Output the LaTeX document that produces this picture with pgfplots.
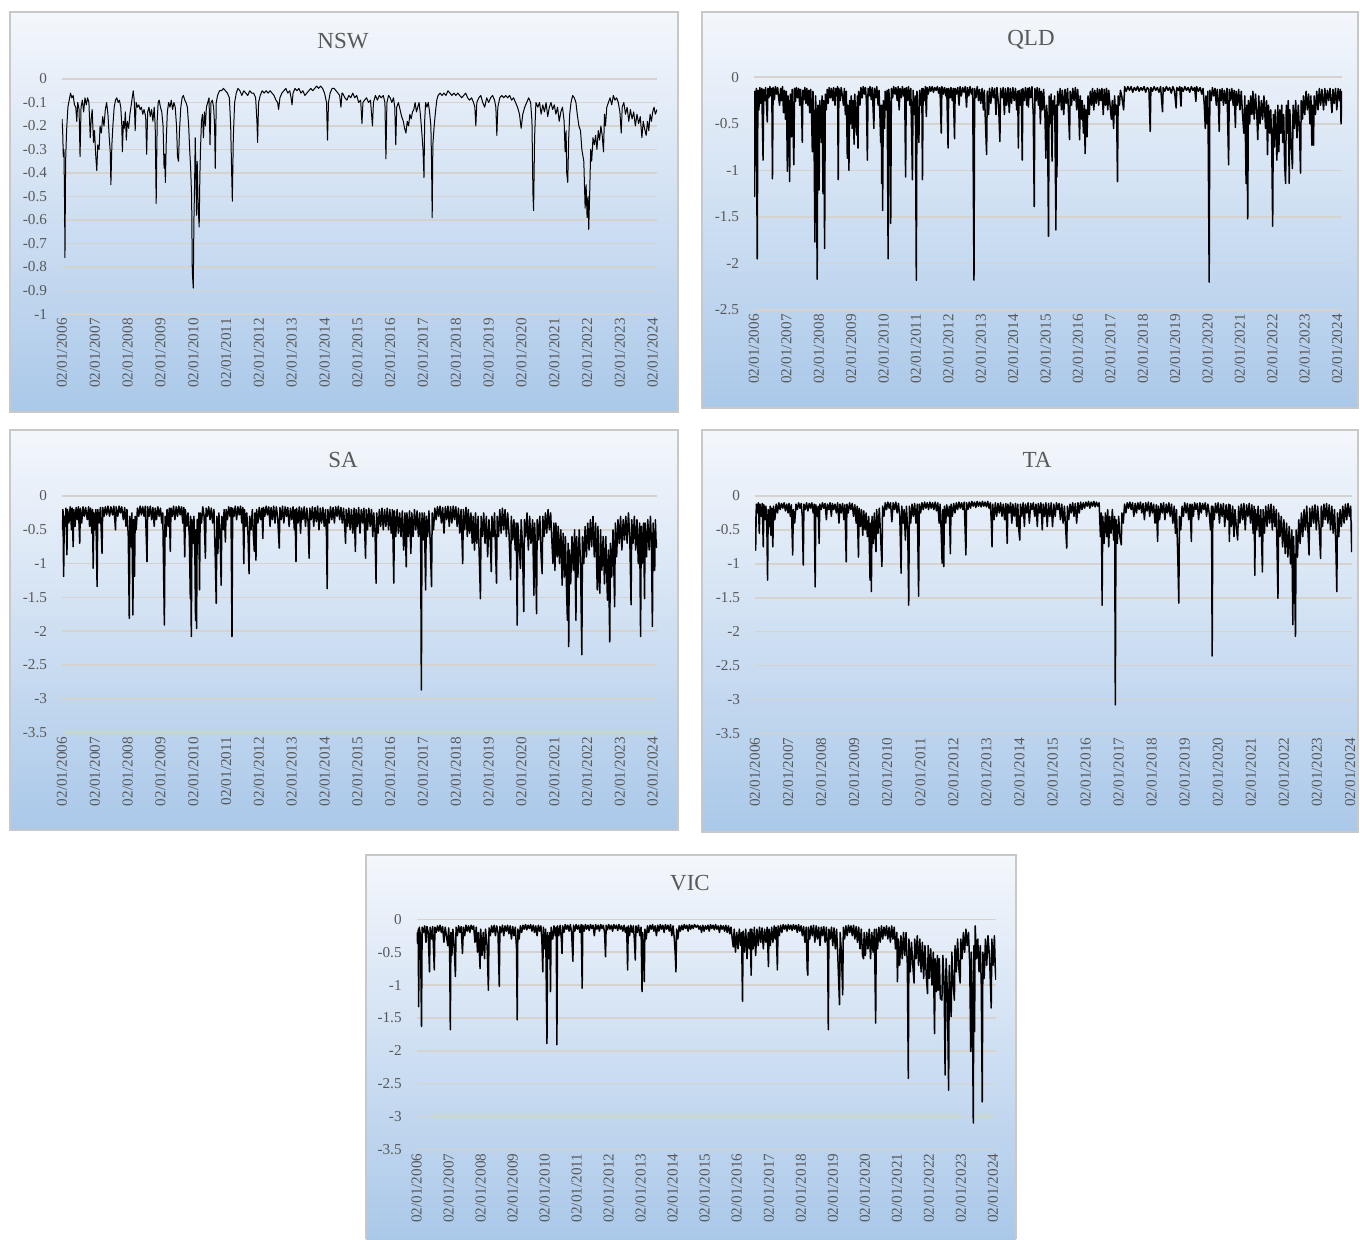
\documentclass[border=0pt]{standalone}
\usepackage{pgfplots}
\pgfplotsset{compat=1.18}
\usepackage{fontspec}
\setmainfont{Liberation Serif}
\definecolor{txt}{RGB}{89,89,89}
\definecolor{gridc}{RGB}{214,210,206}
\definecolor{panTop}{RGB}{244,247,252}
\definecolor{panBot}{RGB}{170,200,233}
\definecolor{panBorder}{RGB}{200,200,200}
\pgfplotsset{panel/.style={
  scale only axis, anchor=south west,
  axis line style={draw=none},
  major tick length=0pt,
  ymajorgrids, grid style={gridc, line width=0.8pt},
  no markers,
  cycle list={{black, line width=0.5pt, line join=round}},
  xtick={2006,2007,2008,2009,2010,2011,2012,2013,2014,2015,2016,2017,2018,2019,2020,2021,2022,2023,2024},
  xticklabels={02/01/2006,02/01/2007,02/01/2008,02/01/2009,02/01/2010,02/01/2011,02/01/2012,02/01/2013,02/01/2014,02/01/2015,02/01/2016,02/01/2017,02/01/2018,02/01/2019,02/01/2020,02/01/2021,02/01/2022,02/01/2023,02/01/2024},
  x tick label style={rotate=90, anchor=east, font=\fontsize{7.6}{9}\selectfont, text=txt, inner sep=2pt},
  y tick label style={font=\fontsize{7.6}{9}\selectfont, text=txt, xshift=-4pt},
  /pgf/number format/assume math mode=true,
  yticklabel style={/pgf/number format/fixed},
}}
\tikzset{ser/.style={black, mark=none, line width=0.5pt, line join=round},
         serd/.style={black, mark=none, line width=0.75pt, line join=round}}
\begin{document}
\begin{tikzpicture}
\path[use as bounding box] (0pt,0pt) rectangle (680pt,619.5pt);
% panels
\shade[top color=panTop, bottom color=panBot] (5pt,413.5pt) rectangle (339pt,613.5pt);
\draw[panBorder, line width=0.6pt] (5pt,413.5pt) rectangle (339pt,613.5pt);
\shade[top color=panTop, bottom color=panBot] (351pt,415.5pt) rectangle (679pt,613.5pt);
\draw[panBorder, line width=0.6pt] (351pt,415.5pt) rectangle (679pt,613.5pt);
\shade[top color=panTop, bottom color=panBot] (5pt,204.5pt) rectangle (339pt,404.5pt);
\draw[panBorder, line width=0.6pt] (5pt,204.5pt) rectangle (339pt,404.5pt);
\shade[top color=panTop, bottom color=panBot] (351pt,203.5pt) rectangle (679pt,404.5pt);
\draw[panBorder, line width=0.6pt] (351pt,203.5pt) rectangle (679pt,404.5pt);
\shade[top color=panTop, bottom color=panBot] (183pt,0pt) rectangle (508pt,192pt);
\draw[panBorder, line width=0.6pt] (183pt,0pt) -- (183pt,192pt) -- (508pt,192pt) -- (508pt,0pt);
% titles
\node[font=\fontsize{11.5}{13}\selectfont, text=txt] at (171.5pt,599pt) {NSW};
\node[font=\fontsize{11.5}{13}\selectfont, text=txt] at (515.5pt,599.5pt) {QLD};
\node[font=\fontsize{11.5}{13}\selectfont, text=txt] at (171.5pt,389.5pt) {SA};
\node[font=\fontsize{11.5}{13}\selectfont, text=txt] at (518.5pt,389.5pt) {TA};
\node[font=\fontsize{11.5}{13}\selectfont, text=txt] at (345pt,178pt) {VIC};

% NSW
\begin{axis}[panel, at={(31pt,462.5pt)}, width=297.5pt, height=117.5pt,
  xmin=2006, xmax=2024.13, ymin=-1, ymax=0,
  ytick={-1,-0.9,-0.8,-0.7,-0.6,-0.5,-0.4,-0.3,-0.2,-0.1,0}]
\addplot[ser] coordinates {
(2006.00,-0.17) (2006.02,-0.22) (2006.04,-0.33) (2006.06,-0.30) (2006.08,-0.55) (2006.09,-0.76) (2006.11,-0.35) (2006.14,-0.22)
(2006.18,-0.12) (2006.22,-0.09) (2006.26,-0.06) (2006.30,-0.08) (2006.34,-0.07) (2006.38,-0.11) (2006.42,-0.12) (2006.45,-0.18)
(2006.48,-0.10) (2006.52,-0.13) (2006.55,-0.33) (2006.58,-0.12) (2006.62,-0.09) (2006.66,-0.14) (2006.70,-0.08) (2006.74,-0.11)
(2006.78,-0.08) (2006.82,-0.10) (2006.86,-0.25) (2006.89,-0.17) (2006.92,-0.13) (2006.96,-0.27) (2006.99,-0.22) (2007.03,-0.33)
(2007.06,-0.39) (2007.09,-0.28) (2007.13,-0.30) (2007.16,-0.20) (2007.20,-0.23) (2007.24,-0.16) (2007.28,-0.20) (2007.32,-0.13)
(2007.36,-0.10) (2007.40,-0.15) (2007.44,-0.25) (2007.47,-0.31) (2007.49,-0.45) (2007.52,-0.28) (2007.55,-0.20) (2007.59,-0.12)
(2007.63,-0.09) (2007.67,-0.08) (2007.71,-0.10) (2007.75,-0.09) (2007.79,-0.12) (2007.82,-0.19) (2007.84,-0.31) (2007.87,-0.18)
(2007.90,-0.21) (2007.93,-0.14) (2007.96,-0.26) (2007.99,-0.18) (2008.03,-0.21) (2008.07,-0.15) (2008.11,-0.11) (2008.14,-0.08)
(2008.17,-0.05) (2008.20,-0.09) (2008.23,-0.22) (2008.26,-0.10) (2008.30,-0.12) (2008.34,-0.11) (2008.38,-0.13) (2008.42,-0.12)
(2008.46,-0.15) (2008.50,-0.13) (2008.55,-0.16) (2008.58,-0.32) (2008.61,-0.14) (2008.65,-0.12) (2008.69,-0.16) (2008.73,-0.13)
(2008.77,-0.18) (2008.81,-0.12) (2008.84,-0.20) (2008.87,-0.53) (2008.90,-0.18) (2008.93,-0.10) (2008.96,-0.09) (2009.00,-0.12)
(2009.04,-0.14) (2009.08,-0.20) (2009.11,-0.38) (2009.13,-0.32) (2009.15,-0.44) (2009.18,-0.25) (2009.21,-0.14) (2009.25,-0.10)
(2009.29,-0.12) (2009.33,-0.09) (2009.37,-0.13) (2009.41,-0.10) (2009.45,-0.12) (2009.49,-0.20) (2009.52,-0.33) (2009.55,-0.35)
(2009.58,-0.22) (2009.62,-0.12) (2009.66,-0.08) (2009.70,-0.07) (2009.74,-0.09) (2009.78,-0.10) (2009.82,-0.12) (2009.86,-0.20)
(2009.89,-0.30) (2009.92,-0.38) (2009.95,-0.50) (2009.97,-0.82) (2010.00,-0.89) (2010.02,-0.60) (2010.04,-0.45) (2010.06,-0.25)
(2010.08,-0.40) (2010.10,-0.58) (2010.12,-0.35) (2010.15,-0.55) (2010.18,-0.63) (2010.20,-0.42) (2010.22,-0.30) (2010.25,-0.18)
(2010.28,-0.15) (2010.31,-0.25) (2010.34,-0.14) (2010.37,-0.20) (2010.40,-0.12) (2010.44,-0.10) (2010.48,-0.08) (2010.51,-0.28)
(2010.54,-0.10) (2010.58,-0.09) (2010.62,-0.12) (2010.65,-0.20) (2010.67,-0.38) (2010.70,-0.10) (2010.74,-0.07) (2010.80,-0.05)
(2010.86,-0.05) (2010.92,-0.04) (2010.98,-0.05) (2011.04,-0.06) (2011.10,-0.08) (2011.14,-0.20) (2011.17,-0.40) (2011.19,-0.52)
(2011.22,-0.25) (2011.26,-0.10) (2011.31,-0.06) (2011.36,-0.04) (2011.42,-0.05) (2011.48,-0.07) (2011.54,-0.05) (2011.60,-0.06)
(2011.66,-0.07) (2011.72,-0.05) (2011.78,-0.06) (2011.84,-0.06) (2011.90,-0.08) (2011.94,-0.18) (2011.96,-0.27) (2011.99,-0.10)
(2012.04,-0.07) (2012.10,-0.05) (2012.16,-0.06) (2012.22,-0.05) (2012.28,-0.06) (2012.34,-0.05) (2012.40,-0.06) (2012.46,-0.07)
(2012.52,-0.09) (2012.57,-0.10) (2012.60,-0.13) (2012.64,-0.08) (2012.70,-0.06) (2012.76,-0.05) (2012.82,-0.04) (2012.88,-0.06)
(2012.94,-0.05) (2012.98,-0.08) (2013.01,-0.11) (2013.04,-0.06) (2013.10,-0.04) (2013.16,-0.05) (2013.22,-0.04) (2013.28,-0.06)
(2013.34,-0.05) (2013.40,-0.07) (2013.46,-0.06) (2013.52,-0.05) (2013.58,-0.04) (2013.64,-0.05) (2013.70,-0.04) (2013.76,-0.03)
(2013.82,-0.04) (2013.88,-0.03) (2013.94,-0.04) (2014.00,-0.06) (2014.06,-0.10) (2014.09,-0.26) (2014.12,-0.10) (2014.17,-0.06)
(2014.23,-0.04) (2014.29,-0.04) (2014.35,-0.05) (2014.41,-0.06) (2014.46,-0.07) (2014.50,-0.12) (2014.53,-0.06) (2014.55,-0.06)
(2014.62,-0.08) (2014.68,-0.09) (2014.74,-0.07) (2014.80,-0.08) (2014.86,-0.06) (2014.92,-0.08) (2014.98,-0.07) (2015.04,-0.10)
(2015.10,-0.09) (2015.14,-0.19) (2015.17,-0.10) (2015.22,-0.09) (2015.28,-0.08) (2015.34,-0.10) (2015.40,-0.09) (2015.46,-0.20)
(2015.49,-0.10) (2015.55,-0.07) (2015.61,-0.09) (2015.67,-0.07) (2015.73,-0.08) (2015.79,-0.07) (2015.84,-0.10) (2015.87,-0.34)
(2015.90,-0.10) (2015.95,-0.07) (2016.00,-0.08) (2016.05,-0.10) (2016.10,-0.08) (2016.14,-0.12) (2016.17,-0.28) (2016.20,-0.12)
(2016.25,-0.10) (2016.30,-0.13) (2016.35,-0.16) (2016.40,-0.18) (2016.44,-0.21) (2016.48,-0.23) (2016.52,-0.18) (2016.56,-0.20)
(2016.60,-0.15) (2016.64,-0.17) (2016.68,-0.14) (2016.72,-0.13) (2016.76,-0.10) (2016.80,-0.14) (2016.84,-0.12) (2016.88,-0.10)
(2016.92,-0.15) (2016.96,-0.22) (2017.00,-0.30) (2017.03,-0.42) (2017.05,-0.18) (2017.08,-0.10) (2017.12,-0.12) (2017.16,-0.10)
(2017.20,-0.14) (2017.24,-0.20) (2017.26,-0.35) (2017.28,-0.59) (2017.30,-0.28) (2017.34,-0.20) (2017.38,-0.14) (2017.42,-0.09)
(2017.46,-0.07) (2017.52,-0.06) (2017.58,-0.07) (2017.64,-0.06) (2017.70,-0.07) (2017.76,-0.05) (2017.82,-0.06) (2017.88,-0.07)
(2017.94,-0.06) (2018.00,-0.07) (2018.06,-0.06) (2018.12,-0.07) (2018.18,-0.08) (2018.24,-0.07) (2018.30,-0.06) (2018.36,-0.08)
(2018.42,-0.09) (2018.48,-0.08) (2018.54,-0.10) (2018.58,-0.12) (2018.61,-0.20) (2018.64,-0.10) (2018.70,-0.08) (2018.76,-0.07)
(2018.82,-0.10) (2018.88,-0.12) (2018.94,-0.08) (2019.00,-0.10) (2019.06,-0.08) (2019.12,-0.07) (2019.18,-0.09) (2019.22,-0.12)
(2019.25,-0.24) (2019.28,-0.12) (2019.34,-0.08) (2019.40,-0.07) (2019.46,-0.08) (2019.52,-0.07) (2019.58,-0.08) (2019.64,-0.07)
(2019.70,-0.09) (2019.76,-0.08) (2019.82,-0.10) (2019.88,-0.12) (2019.94,-0.15) (2019.99,-0.21) (2020.04,-0.15) (2020.10,-0.12)
(2020.16,-0.10) (2020.22,-0.08) (2020.28,-0.10) (2020.32,-0.18) (2020.35,-0.49) (2020.37,-0.56) (2020.40,-0.25) (2020.44,-0.10)
(2020.50,-0.12) (2020.55,-0.10) (2020.60,-0.15) (2020.65,-0.11) (2020.70,-0.14) (2020.75,-0.10) (2020.80,-0.16) (2020.85,-0.12)
(2020.90,-0.10) (2020.95,-0.13) (2021.00,-0.11) (2021.05,-0.15) (2021.10,-0.12) (2021.15,-0.18) (2021.20,-0.14) (2021.25,-0.12)
(2021.30,-0.18) (2021.33,-0.31) (2021.36,-0.22) (2021.38,-0.40) (2021.41,-0.44) (2021.44,-0.25) (2021.47,-0.15) (2021.51,-0.10)
(2021.56,-0.07) (2021.61,-0.08) (2021.66,-0.10) (2021.70,-0.15) (2021.75,-0.20) (2021.80,-0.22) (2021.84,-0.30) (2021.90,-0.35)
(2021.94,-0.55) (2021.97,-0.45) (2022.00,-0.59) (2022.03,-0.50) (2022.05,-0.64) (2022.08,-0.48) (2022.11,-0.30) (2022.14,-0.35)
(2022.18,-0.25) (2022.22,-0.28) (2022.26,-0.24) (2022.30,-0.30) (2022.34,-0.22) (2022.38,-0.26) (2022.42,-0.20) (2022.46,-0.24)
(2022.50,-0.31) (2022.53,-0.15) (2022.56,-0.20) (2022.60,-0.12) (2022.65,-0.10) (2022.70,-0.08) (2022.75,-0.11) (2022.80,-0.07)
(2022.85,-0.09) (2022.90,-0.08) (2022.95,-0.10) (2023.00,-0.14) (2023.04,-0.23) (2023.07,-0.12) (2023.12,-0.10) (2023.17,-0.15)
(2023.22,-0.12) (2023.27,-0.18) (2023.32,-0.13) (2023.37,-0.17) (2023.42,-0.14) (2023.47,-0.20) (2023.52,-0.15) (2023.57,-0.19)
(2023.62,-0.16) (2023.67,-0.25) (2023.71,-0.18) (2023.75,-0.21) (2023.80,-0.24) (2023.84,-0.18) (2023.88,-0.22) (2023.92,-0.15)
(2023.96,-0.18) (2024.00,-0.14) (2024.04,-0.12) (2024.08,-0.15) (2024.13,-0.13)
};
\end{axis}

% QLD
\begin{axis}[panel, at={(377pt,464.5pt)}, width=294pt, height=116.35pt,
  xmin=2006, xmax=2024.15, ymin=-2.5, ymax=0,
  ytick={-2.5,-2,-1.5,-1,-0.5,0}]
\addplot[serd] coordinates {
(2006.00,-0.25) (2006.02,-1.28) (2006.03,-0.15) (2006.05,-0.66) (2006.07,-0.12) (2006.10,-1.95) (2006.12,-0.14) (2006.15,-0.35)
(2006.18,-0.11) (2006.21,-0.28) (2006.24,-0.12) (2006.28,-0.89) (2006.30,-0.13) (2006.33,-0.25) (2006.36,-0.11) (2006.41,-0.48)
(2006.43,-0.12) (2006.46,-0.22) (2006.49,-0.10) (2006.52,-0.20) (2006.55,-0.12) (2006.57,-1.09) (2006.59,-0.11) (2006.63,-0.24)
(2006.66,-0.10) (2006.70,-0.18) (2006.73,-0.11) (2006.76,-0.22) (2006.79,-0.30) (2006.82,-0.12) (2006.85,-0.25) (2006.88,-0.10)
(2006.91,-0.38) (2006.94,-0.14) (2006.97,-0.45) (2007.00,-0.15) (2007.03,-1.01) (2007.05,-0.20) (2007.08,-0.40) (2007.10,-1.12)
(2007.12,-0.18) (2007.16,-0.64) (2007.18,-0.13) (2007.23,-0.94) (2007.25,-0.12) (2007.28,-0.26) (2007.31,-0.11) (2007.35,-0.22)
(2007.38,-0.12) (2007.41,-0.30) (2007.44,-0.13) (2007.47,-0.35) (2007.49,-0.70) (2007.51,-0.14) (2007.54,-0.24) (2007.57,-0.11)
(2007.60,-0.28) (2007.63,-0.12) (2007.66,-0.30) (2007.69,-0.14) (2007.72,-0.38) (2007.75,-0.13) (2007.78,-0.45) (2007.80,-0.80)
(2007.82,-0.15) (2007.85,-0.50) (2007.88,-1.77) (2007.90,-0.20) (2007.92,-0.40) (2007.95,-2.17) (2007.97,-0.30) (2008.00,-0.55)
(2008.01,-1.21) (2008.03,-0.25) (2008.06,-0.45) (2008.08,-0.70) (2008.10,-0.20) (2008.13,-1.25) (2008.15,-0.25) (2008.18,-1.84)
(2008.20,-0.18) (2008.23,-0.35) (2008.26,-0.13) (2008.29,-0.28) (2008.32,-0.11) (2008.36,-0.22) (2008.39,-0.12) (2008.43,-0.25)
(2008.46,-0.11) (2008.50,-0.30) (2008.53,-0.12) (2008.56,-0.20) (2008.58,-0.10) (2008.60,-1.10) (2008.62,-0.12) (2008.66,-0.25)
(2008.69,-0.11) (2008.73,-0.20) (2008.76,-0.30) (2008.79,-0.12) (2008.82,-0.40) (2008.85,-0.15) (2008.88,-0.87) (2008.90,-0.30)
(2008.93,-1.00) (2008.95,-0.25) (2008.98,-0.50) (2009.00,-0.20) (2009.03,-0.55) (2009.06,-0.25) (2009.09,-0.72) (2009.11,-0.18)
(2009.14,-0.45) (2009.17,-0.62) (2009.19,-0.20) (2009.21,-0.76) (2009.23,-0.15) (2009.27,-0.30) (2009.30,-0.11) (2009.34,-0.22)
(2009.37,-0.10) (2009.41,-0.18) (2009.44,-0.11) (2009.47,-0.25) (2009.50,-0.89) (2009.52,-0.12) (2009.55,-0.20) (2009.58,-0.10)
(2009.62,-0.24) (2009.65,-0.11) (2009.70,-0.55) (2009.72,-0.12) (2009.76,-0.22) (2009.79,-0.10) (2009.83,-0.30) (2009.86,-0.14)
(2009.89,-0.45) (2009.91,-0.70) (2009.93,-0.30) (2009.94,-1.14) (2009.96,-0.40) (2009.97,-1.43) (2009.99,-0.25) (2010.03,-0.55)
(2010.05,-0.15) (2010.08,-0.35) (2010.11,-0.14) (2010.14,-1.95) (2010.16,-0.13) (2010.19,-0.30) (2010.22,-1.57) (2010.24,-0.12)
(2010.28,-0.22) (2010.31,-0.10) (2010.35,-0.18) (2010.38,-0.11) (2010.42,-0.25) (2010.45,-0.10) (2010.48,-0.35) (2010.51,-0.12)
(2010.55,-0.22) (2010.58,-0.10) (2010.62,-0.20) (2010.65,-0.12) (2010.68,-1.07) (2010.70,-0.11) (2010.74,-0.25) (2010.77,-0.10)
(2010.81,-0.30) (2010.84,-0.12) (2010.89,-1.10) (2010.91,-0.14) (2010.95,-0.40) (2010.98,-0.20) (2011.01,-2.18) (2011.03,-0.15)
(2011.06,-0.45) (2011.09,-0.70) (2011.11,-0.14) (2011.15,-0.30) (2011.18,-0.12) (2011.20,-1.10) (2011.22,-0.12) (2011.26,-0.25)
(2011.29,-0.10) (2011.32,-0.42) (2011.34,-0.11) (2011.38,-0.18) (2011.42,-0.10) (2011.46,-0.15) (2011.50,-0.10) (2011.54,-0.16)
(2011.58,-0.11) (2011.62,-0.14) (2011.66,-0.10) (2011.70,-0.17) (2011.74,-0.11) (2011.78,-0.60) (2011.80,-0.10) (2011.84,-0.18)
(2011.88,-0.11) (2011.92,-0.20) (2011.95,-0.12) (2011.99,-0.76) (2012.01,-0.12) (2012.05,-0.22) (2012.08,-0.11) (2012.12,-0.25)
(2012.15,-0.12) (2012.19,-0.66) (2012.21,-0.12) (2012.25,-0.18) (2012.29,-0.11) (2012.33,-0.30) (2012.36,-0.10) (2012.40,-0.20)
(2012.44,-0.11) (2012.48,-0.16) (2012.52,-0.10) (2012.56,-0.32) (2012.59,-0.11) (2012.63,-0.20) (2012.67,-0.10) (2012.71,-0.18)
(2012.75,-0.12) (2012.79,-2.18) (2012.81,-0.12) (2012.85,-0.22) (2012.89,-0.10) (2012.93,-0.25) (2012.96,-0.13) (2013.00,-0.28)
(2013.04,-0.12) (2013.08,-0.35) (2013.11,-0.14) (2013.15,-0.55) (2013.18,-0.83) (2013.20,-0.15) (2013.24,-0.40) (2013.27,-0.12)
(2013.31,-0.28) (2013.35,-0.11) (2013.39,-0.22) (2013.43,-0.12) (2013.47,-0.40) (2013.50,-0.11) (2013.55,-0.30) (2013.59,-0.69)
(2013.61,-0.12) (2013.65,-0.22) (2013.69,-0.11) (2013.73,-0.40) (2013.76,-0.12) (2013.80,-0.30) (2013.84,-0.11) (2013.88,-0.38)
(2013.91,-0.12) (2013.95,-0.28) (2013.99,-0.11) (2014.03,-0.25) (2014.07,-0.12) (2014.11,-0.35) (2014.14,-0.15) (2014.16,-0.76)
(2014.18,-0.14) (2014.22,-0.30) (2014.25,-0.13) (2014.28,-0.89) (2014.30,-0.12) (2014.34,-0.25) (2014.38,-0.11) (2014.42,-0.30)
(2014.45,-0.12) (2014.47,-0.32) (2014.50,-0.11) (2014.54,-0.22) (2014.58,-0.10) (2014.62,-0.40) (2014.65,-1.39) (2014.67,-0.12)
(2014.71,-0.25) (2014.74,-0.11) (2014.78,-0.30) (2014.81,-0.12) (2014.84,-0.50) (2014.87,-0.15) (2014.91,-0.35) (2014.94,-0.13)
(2014.98,-0.40) (2015.01,-0.87) (2015.03,-0.30) (2015.06,-0.45) (2015.09,-1.71) (2015.11,-0.20) (2015.14,-0.50) (2015.17,-0.18)
(2015.20,-0.90) (2015.22,-0.25) (2015.25,-0.40) (2015.28,-0.20) (2015.32,-1.64) (2015.33,-0.30) (2015.35,-1.07) (2015.37,-0.15)
(2015.41,-0.30) (2015.45,-0.12) (2015.49,-0.35) (2015.52,-0.14) (2015.56,-0.40) (2015.60,-0.13) (2015.64,-0.28) (2015.68,-0.12)
(2015.71,-0.40) (2015.74,-0.67) (2015.76,-0.15) (2015.80,-0.30) (2015.84,-0.12) (2015.88,-0.25) (2015.92,-0.11) (2015.96,-0.35)
(2015.99,-0.13) (2016.02,-0.30) (2016.05,-0.67) (2016.07,-0.20) (2016.10,-0.45) (2016.13,-0.25) (2016.17,-0.60) (2016.20,-0.30)
(2016.22,-0.82) (2016.25,-0.35) (2016.28,-0.64) (2016.31,-0.20) (2016.35,-0.40) (2016.38,-0.15) (2016.42,-0.30) (2016.45,-0.12)
(2016.49,-0.35) (2016.52,-0.14) (2016.56,-0.28) (2016.60,-0.12) (2016.64,-0.30) (2016.67,-0.13) (2016.71,-0.25) (2016.74,-0.12)
(2016.78,-0.40) (2016.81,-0.13) (2016.85,-0.30) (2016.88,-0.12) (2016.92,-0.35) (2016.95,-0.14) (2016.99,-0.30) (2017.03,-0.45)
(2017.06,-0.25) (2017.10,-0.55) (2017.13,-0.20) (2017.16,-0.40) (2017.19,-0.30) (2017.22,-1.12) (2017.24,-0.20) (2017.28,-0.30)
(2017.31,-0.14) (2017.35,-0.20) (2017.41,-0.35) (2017.44,-0.10) (2017.49,-0.15) (2017.54,-0.10) (2017.59,-0.14) (2017.64,-0.10)
(2017.69,-0.16) (2017.74,-0.11) (2017.79,-0.14) (2017.84,-0.10) (2017.89,-0.15) (2017.94,-0.11) (2017.99,-0.14) (2018.04,-0.10)
(2018.09,-0.16) (2018.14,-0.11) (2018.19,-0.13) (2018.23,-0.58) (2018.25,-0.11) (2018.30,-0.15) (2018.35,-0.10) (2018.40,-0.14)
(2018.45,-0.11) (2018.50,-0.16) (2018.55,-0.10) (2018.61,-0.37) (2018.63,-0.11) (2018.68,-0.15) (2018.73,-0.10) (2018.78,-0.14)
(2018.83,-0.11) (2018.88,-0.17) (2018.93,-0.10) (2018.98,-0.15) (2019.03,-0.33) (2019.05,-0.11) (2019.10,-0.14) (2019.14,-0.10)
(2019.18,-0.31) (2019.20,-0.11) (2019.25,-0.15) (2019.30,-0.10) (2019.35,-0.14) (2019.40,-0.11) (2019.45,-0.16) (2019.50,-0.10)
(2019.55,-0.14) (2019.60,-0.11) (2019.64,-0.26) (2019.66,-0.10) (2019.72,-0.15) (2019.77,-0.11) (2019.82,-0.18) (2019.86,-0.12)
(2019.90,-0.30) (2019.93,-0.55) (2019.95,-0.20) (2019.98,-0.50) (2020.01,-0.15) (2020.05,-2.20) (2020.07,-0.14) (2020.11,-0.25)
(2020.15,-0.11) (2020.19,-0.20) (2020.23,-0.12) (2020.27,-0.30) (2020.30,-0.13) (2020.33,-0.25) (2020.36,-0.58) (2020.38,-0.13)
(2020.42,-0.25) (2020.45,-0.12) (2020.49,-0.30) (2020.52,-0.14) (2020.56,-0.28) (2020.60,-0.12) (2020.65,-0.94) (2020.67,-0.13)
(2020.71,-0.25) (2020.75,-0.12) (2020.79,-0.30) (2020.82,-0.14) (2020.86,-0.54) (2020.88,-0.15) (2020.92,-0.30) (2020.96,-0.13)
(2021.00,-0.35) (2021.04,-0.15) (2021.08,-0.40) (2021.12,-0.60) (2021.15,-0.20) (2021.19,-1.14) (2021.21,-0.30) (2021.24,-1.52)
(2021.26,-0.25) (2021.30,-0.50) (2021.33,-0.20) (2021.37,-0.40) (2021.40,-0.15) (2021.44,-0.45) (2021.48,-0.18) (2021.52,-0.40)
(2021.55,-0.67) (2021.58,-0.20) (2021.62,-0.50) (2021.66,-0.25) (2021.70,-0.45) (2021.74,-0.20) (2021.79,-0.55) (2021.82,-0.25)
(2021.85,-0.83) (2021.88,-0.30) (2021.92,-0.60) (2021.95,-0.35) (2021.98,-0.70) (2022.01,-1.60) (2022.03,-0.40) (2022.06,-0.75)
(2022.09,-0.35) (2022.12,-0.65) (2022.14,-0.89) (2022.17,-0.30) (2022.20,-0.80) (2022.23,-0.35) (2022.26,-0.60) (2022.29,-0.30)
(2022.32,-0.70) (2022.35,-0.40) (2022.38,-0.95) (2022.41,-1.14) (2022.43,-0.30) (2022.46,-0.60) (2022.49,-0.25) (2022.52,-1.14)
(2022.54,-0.35) (2022.58,-0.70) (2022.62,-0.98) (2022.64,-0.30) (2022.68,-0.55) (2022.72,-0.25) (2022.76,-0.65) (2022.80,-0.30)
(2022.84,-0.60) (2022.87,-1.03) (2022.89,-0.25) (2022.93,-0.45) (2022.96,-0.20) (2023.00,-0.40) (2023.04,-0.15) (2023.08,-0.35)
(2023.12,-0.18) (2023.16,-0.50) (2023.19,-0.20) (2023.22,-0.73) (2023.24,-0.30) (2023.27,-0.73) (2023.29,-0.20) (2023.33,-0.40)
(2023.37,-0.15) (2023.41,-0.35) (2023.45,-0.12) (2023.49,-0.30) (2023.53,-0.13) (2023.58,-0.35) (2023.62,-0.12) (2023.66,-0.30)
(2023.70,-0.14) (2023.74,-0.25) (2023.78,-0.12) (2023.84,-0.38) (2023.87,-0.13) (2023.91,-0.28) (2023.95,-0.12) (2023.99,-0.35)
(2024.03,-0.12) (2024.07,-0.25) (2024.10,-0.13) (2024.12,-0.50) (2024.15,-0.15)
};
\end{axis}

% SA
\begin{axis}[panel, at={(31pt,253.25pt)}, width=297.5pt, height=118.25pt,
  xmin=2006, xmax=2024.13, ymin=-3.5, ymax=0,
  ytick={-3.5,-3,-2.5,-2,-1.5,-1,-0.5,0}]
\addplot[serd] coordinates {
(2006.00,-0.35) (2006.02,-0.50) (2006.03,-0.20) (2006.05,-1.19) (2006.07,-0.30) (2006.10,-0.45) (2006.12,-0.18) (2006.15,-0.87)
(2006.17,-0.20) (2006.21,-0.40) (2006.25,-0.16) (2006.29,-0.50) (2006.31,-0.18) (2006.34,-0.75) (2006.36,-0.20) (2006.40,-0.45)
(2006.43,-0.17) (2006.47,-0.35) (2006.50,-0.16) (2006.54,-0.70) (2006.56,-0.18) (2006.60,-0.40) (2006.64,-0.16) (2006.68,-0.30)
(2006.72,-0.17) (2006.77,-0.35) (2006.81,-0.16) (2006.84,-0.45) (2006.87,-0.18) (2006.91,-0.55) (2006.93,-0.20) (2006.95,-1.07)
(2006.97,-0.25) (2007.00,-0.50) (2007.03,-0.20) (2007.07,-1.34) (2007.09,-0.20) (2007.13,-0.40) (2007.17,-0.17) (2007.22,-0.85)
(2007.24,-0.17) (2007.28,-0.30) (2007.32,-0.16) (2007.36,-0.28) (2007.40,-0.15) (2007.45,-0.30) (2007.49,-0.16) (2007.54,-0.28)
(2007.58,-0.15) (2007.63,-0.50) (2007.65,-0.16) (2007.70,-0.30) (2007.74,-0.15) (2007.78,-0.25) (2007.82,-0.16) (2007.87,-0.35)
(2007.91,-0.17) (2007.95,-0.45) (2007.98,-0.20) (2008.02,-0.60) (2008.05,-1.81) (2008.07,-0.30) (2008.10,-0.75) (2008.13,-0.25)
(2008.16,-1.76) (2008.18,-0.35) (2008.21,-1.19) (2008.23,-0.30) (2008.26,-0.50) (2008.30,-0.18) (2008.34,-0.30) (2008.38,-0.15)
(2008.42,-0.28) (2008.46,-0.16) (2008.50,-0.30) (2008.54,-0.15) (2008.59,-0.97) (2008.61,-0.16) (2008.65,-0.30) (2008.69,-0.15)
(2008.73,-0.35) (2008.77,-0.17) (2008.81,-0.45) (2008.84,-0.18) (2008.88,-0.35) (2008.92,-0.16) (2008.96,-0.30) (2009.00,-0.18)
(2009.04,-0.40) (2009.07,-0.25) (2009.10,-1.24) (2009.12,-1.91) (2009.14,-0.30) (2009.17,-0.60) (2009.20,-0.20) (2009.24,-0.45)
(2009.27,-0.18) (2009.30,-0.82) (2009.32,-0.18) (2009.36,-0.30) (2009.40,-0.15) (2009.44,-0.35) (2009.48,-0.16) (2009.52,-0.30)
(2009.56,-0.15) (2009.60,-0.28) (2009.64,-0.16) (2009.68,-0.40) (2009.71,-0.17) (2009.74,-0.90) (2009.76,-0.20) (2009.80,-0.45)
(2009.84,-0.25) (2009.88,-0.60) (2009.91,-1.52) (2009.92,-0.30) (2009.94,-2.08) (2009.96,-0.35) (2009.99,-0.70) (2010.02,-0.30)
(2010.05,-0.90) (2010.07,-1.84) (2010.08,-0.50) (2010.10,-1.96) (2010.12,-0.35) (2010.15,-0.70) (2010.17,-0.25) (2010.19,-1.39)
(2010.21,-0.25) (2010.25,-0.40) (2010.29,-0.16) (2010.33,-0.30) (2010.37,-0.92) (2010.39,-0.18) (2010.43,-0.30) (2010.47,-0.16)
(2010.51,-0.35) (2010.55,-0.18) (2010.59,-0.40) (2010.63,-0.20) (2010.67,-0.90) (2010.70,-1.59) (2010.72,-0.30) (2010.75,-0.85)
(2010.78,-0.25) (2010.82,-0.60) (2010.85,-1.32) (2010.87,-0.30) (2010.91,-0.50) (2010.94,-0.20) (2010.98,-0.68) (2011.00,-0.20)
(2011.04,-0.35) (2011.08,-0.16) (2011.12,-0.30) (2011.15,-0.17) (2011.18,-2.08) (2011.20,-0.18) (2011.24,-0.30) (2011.28,-0.15)
(2011.32,-0.35) (2011.36,-0.16) (2011.40,-0.28) (2011.44,-0.15) (2011.48,-0.40) (2011.51,-0.17) (2011.54,-1.00) (2011.56,-0.20)
(2011.60,-0.45) (2011.63,-0.25) (2011.67,-0.60) (2011.70,-1.15) (2011.72,-0.30) (2011.76,-0.50) (2011.80,-0.20) (2011.83,-0.55)
(2011.86,-0.82) (2011.88,-0.25) (2011.91,-0.95) (2011.93,-0.20) (2011.97,-0.40) (2012.01,-0.17) (2012.05,-0.35) (2012.09,-0.18)
(2012.12,-0.63) (2012.14,-0.17) (2012.18,-0.30) (2012.22,-0.15) (2012.26,-0.28) (2012.30,-0.16) (2012.34,-0.45) (2012.37,-0.17)
(2012.41,-0.35) (2012.45,-0.15) (2012.49,-0.40) (2012.53,-0.16) (2012.57,-0.30) (2012.62,-0.77) (2012.64,-0.17) (2012.68,-0.35)
(2012.72,-0.15) (2012.76,-0.40) (2012.80,-0.16) (2012.84,-0.30) (2012.88,-0.17) (2012.92,-0.45) (2012.96,-0.18) (2013.00,-0.35)
(2013.04,-0.16) (2013.08,-0.50) (2013.10,-0.20) (2013.13,-0.97) (2013.15,-0.18) (2013.19,-0.40) (2013.23,-0.16) (2013.27,-0.55)
(2013.30,-0.18) (2013.34,-0.35) (2013.38,-0.16) (2013.42,-0.45) (2013.46,-0.18) (2013.50,-0.40) (2013.53,-0.92) (2013.55,-0.18)
(2013.59,-0.35) (2013.63,-0.16) (2013.67,-0.45) (2013.71,-0.17) (2013.75,-0.38) (2013.79,-0.15) (2013.83,-0.50) (2013.87,-0.18)
(2013.91,-0.40) (2013.95,-0.17) (2013.99,-0.45) (2014.03,-0.20) (2014.06,-0.60) (2014.08,-1.37) (2014.10,-0.20) (2014.14,-0.40)
(2014.18,-0.16) (2014.22,-0.35) (2014.26,-0.17) (2014.30,-0.40) (2014.34,-0.16) (2014.38,-0.30) (2014.42,-0.15) (2014.46,-0.35)
(2014.50,-0.17) (2014.54,-0.40) (2014.58,-0.18) (2014.62,-0.50) (2014.64,-0.70) (2014.66,-0.20) (2014.70,-0.45) (2014.74,-0.18)
(2014.78,-0.50) (2014.82,-0.20) (2014.86,-0.55) (2014.90,-0.18) (2014.94,-0.82) (2014.96,-0.20) (2015.00,-0.45) (2015.04,-0.17)
(2015.08,-0.55) (2015.12,-0.20) (2015.16,-0.40) (2015.20,-0.18) (2015.25,-0.92) (2015.27,-0.20) (2015.31,-0.50) (2015.35,-0.18)
(2015.39,-0.45) (2015.43,-0.20) (2015.47,-0.60) (2015.50,-0.25) (2015.54,-0.55) (2015.57,-1.29) (2015.59,-0.25) (2015.63,-0.55)
(2015.67,-0.20) (2015.71,-0.45) (2015.75,-0.18) (2015.79,-0.50) (2015.83,-0.20) (2015.87,-0.45) (2015.91,-0.18) (2015.95,-0.50)
(2015.99,-0.20) (2016.03,-0.55) (2016.07,-0.20) (2016.11,-1.29) (2016.13,-0.22) (2016.17,-0.60) (2016.21,-0.20) (2016.25,-0.55)
(2016.29,-0.25) (2016.33,-0.60) (2016.37,-0.22) (2016.41,-0.80) (2016.45,-0.25) (2016.49,-1.05) (2016.51,-0.25) (2016.55,-0.60)
(2016.59,-0.22) (2016.63,-0.85) (2016.66,-0.25) (2016.70,-0.60) (2016.74,-0.20) (2016.78,-0.50) (2016.82,-0.22) (2016.86,-0.60)
(2016.90,-0.25) (2016.93,-0.70) (2016.95,-2.87) (2016.97,-0.25) (2017.01,-0.65) (2017.04,-0.25) (2017.08,-1.39) (2017.10,-0.30)
(2017.14,-0.60) (2017.18,-0.22) (2017.22,-0.70) (2017.26,-1.34) (2017.28,-0.25) (2017.32,-0.50) (2017.36,-0.18) (2017.40,-0.35)
(2017.44,-0.16) (2017.48,-0.30) (2017.52,-0.15) (2017.56,-0.40) (2017.60,-0.17) (2017.64,-0.55) (2017.68,-0.16) (2017.72,-0.35)
(2017.76,-0.15) (2017.80,-0.45) (2017.84,-0.16) (2017.88,-0.40) (2017.92,-0.15) (2017.96,-0.35) (2018.00,-0.16) (2018.04,-0.45)
(2018.08,-0.18) (2018.12,-0.55) (2018.16,-0.20) (2018.21,-1.00) (2018.23,-0.20) (2018.27,-0.50) (2018.31,-0.17) (2018.35,-0.60)
(2018.38,-0.20) (2018.42,-0.55) (2018.46,-0.25) (2018.50,-0.70) (2018.53,-0.30) (2018.57,-0.80) (2018.60,-0.25) (2018.64,-0.70)
(2018.68,-0.30) (2018.72,-1.00) (2018.75,-1.52) (2018.77,-0.30) (2018.81,-0.60) (2018.85,-0.25) (2018.89,-0.70) (2018.93,-0.30)
(2018.97,-0.90) (2019.01,-0.35) (2019.05,-0.65) (2019.08,-1.12) (2019.10,-0.30) (2019.14,-0.60) (2019.18,-0.25) (2019.21,-0.80)
(2019.24,-1.29) (2019.26,-0.30) (2019.30,-0.60) (2019.34,-0.20) (2019.38,-0.55) (2019.42,-0.18) (2019.46,-0.50) (2019.50,-0.20)
(2019.54,-0.60) (2019.58,-0.25) (2019.62,-0.55) (2019.67,-1.24) (2019.69,-0.30) (2019.73,-0.65) (2019.77,-0.35) (2019.81,-0.80)
(2019.84,-0.40) (2019.87,-1.91) (2019.89,-0.40) (2019.93,-0.75) (2019.97,-1.07) (2019.99,-0.35) (2020.03,-0.70) (2020.07,-1.71)
(2020.09,-0.35) (2020.13,-0.60) (2020.17,-0.25) (2020.21,-0.80) (2020.25,-0.30) (2020.29,-0.70) (2020.34,-0.35) (2020.38,-1.47)
(2020.40,-0.40) (2020.43,-0.80) (2020.46,-1.74) (2020.48,-0.35) (2020.52,-0.65) (2020.56,-0.30) (2020.60,-0.90) (2020.63,-1.15)
(2020.65,-0.30) (2020.69,-0.60) (2020.73,-0.25) (2020.77,-0.55) (2020.81,-0.20) (2020.85,-0.50) (2020.89,-0.25) (2020.93,-0.70)
(2020.96,-1.00) (2020.99,-0.40) (2021.02,-1.10) (2021.05,-0.40) (2021.09,-0.90) (2021.12,-0.45) (2021.16,-1.00) (2021.20,-0.50)
(2021.24,-1.32) (2021.27,-0.55) (2021.31,-1.20) (2021.34,-0.60) (2021.37,-1.30) (2021.40,-1.84) (2021.42,-0.70) (2021.44,-2.23)
(2021.46,-0.80) (2021.50,-1.30) (2021.54,-0.60) (2021.58,-1.10) (2021.62,-0.50) (2021.66,-1.84) (2021.68,-0.60) (2021.72,-1.20)
(2021.76,-0.50) (2021.80,-1.00) (2021.84,-2.35) (2021.86,-0.60) (2021.90,-1.00) (2021.94,-0.45) (2021.98,-0.90) (2022.02,-0.40)
(2022.06,-0.80) (2022.10,-0.35) (2022.14,-0.75) (2022.18,-0.30) (2022.22,-0.90) (2022.26,-0.40) (2022.31,-1.39) (2022.33,-0.45)
(2022.36,-1.20) (2022.39,-1.44) (2022.41,-0.50) (2022.45,-1.10) (2022.49,-0.60) (2022.53,-1.30) (2022.57,-0.60) (2022.62,-1.54)
(2022.65,-0.80) (2022.69,-2.16) (2022.71,-0.70) (2022.75,-1.20) (2022.79,-0.50) (2022.84,-1.64) (2022.86,-0.40) (2022.90,-0.90)
(2022.94,-0.35) (2022.98,-0.70) (2023.02,-0.30) (2023.06,-0.80) (2023.10,-0.35) (2023.14,-0.65) (2023.18,-0.30) (2023.22,-0.70)
(2023.26,-0.25) (2023.30,-0.60) (2023.34,-1.61) (2023.36,-0.35) (2023.40,-0.70) (2023.44,-0.30) (2023.48,-0.80) (2023.52,-0.35)
(2023.56,-1.00) (2023.60,-0.40) (2023.63,-2.08) (2023.65,-0.45) (2023.68,-1.00) (2023.72,-0.40) (2023.75,-1.52) (2023.77,-0.40)
(2023.81,-0.90) (2023.85,-0.35) (2023.89,-0.80) (2023.93,-0.30) (2023.96,-0.70) (2023.99,-1.93) (2024.01,-0.40) (2024.03,-0.80)
(2024.06,-1.10) (2024.08,-0.35) (2024.10,-0.65) (2024.13,-0.77)
};
\end{axis}

% TA
\begin{axis}[panel, at={(377.5pt,252.85pt)}, width=298.5pt, height=118.65pt,
  xmin=2006, xmax=2024.06, ymin=-3.5, ymax=0,
  ytick={-3.5,-3,-2.5,-2,-1.5,-1,-0.5,0}]
\addplot[serd] coordinates {
(2006.00,-0.30) (2006.02,-0.80) (2006.04,-0.12) (2006.08,-0.25) (2006.10,-0.10) (2006.13,-0.55) (2006.15,-0.12) (2006.19,-0.30)
(2006.22,-0.11) (2006.25,-0.75) (2006.27,-0.13) (2006.30,-0.35) (2006.33,-0.15) (2006.36,-0.50) (2006.38,-1.24) (2006.40,-0.20)
(2006.43,-0.45) (2006.46,-0.15) (2006.48,-0.58) (2006.50,-0.18) (2006.54,-0.75) (2006.56,-0.15) (2006.60,-0.35) (2006.64,-0.12)
(2006.68,-0.25) (2006.72,-0.10) (2006.76,-0.20) (2006.80,-0.11) (2006.84,-0.18) (2006.88,-0.10) (2006.92,-0.22) (2006.96,-0.12)
(2007.00,-0.25) (2007.03,-0.11) (2007.07,-0.30) (2007.10,-0.13) (2007.12,-0.50) (2007.14,-0.87) (2007.16,-0.20) (2007.20,-0.40)
(2007.24,-0.12) (2007.28,-0.20) (2007.32,-0.10) (2007.36,-0.18) (2007.40,-0.11) (2007.43,-0.30) (2007.46,-1.02) (2007.48,-0.12)
(2007.52,-0.20) (2007.56,-0.10) (2007.60,-0.22) (2007.64,-0.11) (2007.68,-0.18) (2007.72,-0.10) (2007.76,-0.25) (2007.79,-0.12)
(2007.82,-1.34) (2007.84,-0.13) (2007.88,-0.30) (2007.91,-0.15) (2007.94,-0.70) (2007.96,-0.12) (2008.00,-0.20) (2008.04,-0.10)
(2008.08,-0.18) (2008.12,-0.11) (2008.16,-0.35) (2008.19,-0.12) (2008.23,-0.20) (2008.27,-0.10) (2008.31,-0.30) (2008.34,-0.11)
(2008.38,-0.20) (2008.42,-0.12) (2008.46,-0.25) (2008.50,-0.10) (2008.54,-0.40) (2008.57,-0.12) (2008.61,-0.25) (2008.65,-0.11)
(2008.69,-0.35) (2008.72,-0.13) (2008.76,-0.97) (2008.78,-0.12) (2008.82,-0.25) (2008.86,-0.10) (2008.90,-0.20) (2008.94,-0.11)
(2008.98,-0.30) (2009.02,-0.13) (2009.06,-0.40) (2009.09,-0.15) (2009.13,-0.90) (2009.15,-0.18) (2009.19,-0.45) (2009.22,-0.20)
(2009.26,-0.58) (2009.29,-0.22) (2009.33,-0.50) (2009.36,-0.25) (2009.40,-0.60) (2009.44,-0.30) (2009.48,-1.24) (2009.50,-0.40)
(2009.52,-1.41) (2009.54,-0.30) (2009.58,-0.70) (2009.61,-0.25) (2009.66,-0.82) (2009.68,-0.20) (2009.72,-0.55) (2009.76,-0.18)
(2009.80,-0.60) (2009.84,-1.04) (2009.86,-0.15) (2009.90,-0.30) (2009.94,-0.10) (2009.98,-0.20) (2010.02,-0.09) (2010.06,-0.18)
(2010.10,-0.10) (2010.14,-0.38) (2010.18,-0.10) (2010.22,-0.20) (2010.26,-0.09) (2010.30,-0.25) (2010.34,-0.11) (2010.38,-0.30)
(2010.42,-1.14) (2010.44,-0.15) (2010.48,-0.40) (2010.51,-0.20) (2010.55,-0.65) (2010.58,-0.15) (2010.62,-0.50) (2010.65,-1.61)
(2010.67,-0.15) (2010.71,-0.40) (2010.75,-0.12) (2010.79,-0.30) (2010.83,-0.11) (2010.87,-0.40) (2010.91,-0.12) (2010.95,-1.48)
(2010.97,-0.12) (2011.01,-0.25) (2011.05,-0.10) (2011.09,-0.20) (2011.13,-0.09) (2011.17,-0.18) (2011.21,-0.10) (2011.25,-0.20)
(2011.29,-0.09) (2011.33,-0.18) (2011.37,-0.10) (2011.41,-0.20) (2011.45,-0.09) (2011.49,-0.22) (2011.53,-0.10) (2011.57,-0.40)
(2011.60,-0.12) (2011.63,-0.50) (2011.66,-0.99) (2011.68,-0.20) (2011.71,-1.04) (2011.73,-0.15) (2011.77,-0.40) (2011.80,-0.13)
(2011.84,-0.30) (2011.88,-0.15) (2011.91,-0.85) (2011.93,-0.12) (2011.97,-0.30) (2012.01,-0.11) (2012.05,-0.25) (2012.09,-0.10)
(2012.13,-0.20) (2012.17,-0.09) (2012.21,-0.18) (2012.25,-0.10) (2012.29,-0.20) (2012.33,-0.09) (2012.38,-0.87) (2012.40,-0.10)
(2012.44,-0.20) (2012.48,-0.09) (2012.52,-0.18) (2012.56,-0.08) (2012.60,-0.15) (2012.64,-0.09) (2012.68,-0.17) (2012.72,-0.08)
(2012.76,-0.15) (2012.80,-0.09) (2012.84,-0.16) (2012.88,-0.08) (2012.92,-0.15) (2012.96,-0.09) (2013.00,-0.16) (2013.04,-0.08)
(2013.08,-0.18) (2013.12,-0.10) (2013.15,-0.40) (2013.17,-0.75) (2013.19,-0.12) (2013.23,-0.35) (2013.27,-0.10) (2013.31,-0.30)
(2013.35,-0.11) (2013.39,-0.25) (2013.43,-0.10) (2013.47,-0.30) (2013.51,-0.12) (2013.55,-0.35) (2013.59,-0.11) (2013.63,-0.70)
(2013.65,-0.12) (2013.69,-0.25) (2013.73,-0.10) (2013.77,-0.40) (2013.80,-0.12) (2013.84,-0.30) (2013.88,-0.11) (2013.92,-0.45)
(2013.95,-0.12) (2013.98,-0.50) (2014.01,-0.65) (2014.03,-0.12) (2014.07,-0.30) (2014.11,-0.10) (2014.15,-0.45) (2014.18,-0.12)
(2014.22,-0.25) (2014.26,-0.10) (2014.30,-0.40) (2014.34,-0.11) (2014.38,-0.20) (2014.42,-0.10) (2014.46,-0.30) (2014.50,-0.12)
(2014.54,-0.45) (2014.57,-0.11) (2014.61,-0.25) (2014.65,-0.10) (2014.69,-0.50) (2014.72,-0.12) (2014.76,-0.30) (2014.80,-0.10)
(2014.84,-0.45) (2014.88,-0.11) (2014.92,-0.30) (2014.96,-0.10) (2015.00,-0.45) (2015.04,-0.12) (2015.08,-0.30) (2015.12,-0.10)
(2015.16,-0.20) (2015.20,-0.11) (2015.24,-0.35) (2015.28,-0.12) (2015.32,-0.40) (2015.36,-0.15) (2015.40,-0.50) (2015.43,-0.77)
(2015.45,-0.15) (2015.49,-0.35) (2015.53,-0.12) (2015.57,-0.25) (2015.61,-0.10) (2015.65,-0.30) (2015.69,-0.11) (2015.73,-0.40)
(2015.77,-0.10) (2015.81,-0.25) (2015.85,-0.09) (2015.89,-0.20) (2015.93,-0.10) (2015.97,-0.18) (2016.01,-0.09) (2016.05,-0.15)
(2016.09,-0.08) (2016.13,-0.18) (2016.17,-0.09) (2016.21,-0.15) (2016.25,-0.08) (2016.29,-0.16) (2016.33,-0.09) (2016.37,-0.15)
(2016.41,-0.10) (2016.45,-0.60) (2016.48,-0.25) (2016.50,-1.61) (2016.52,-0.30) (2016.56,-0.70) (2016.60,-0.25) (2016.64,-0.60)
(2016.67,-0.20) (2016.70,-0.75) (2016.73,-0.30) (2016.77,-0.55) (2016.81,-0.20) (2016.85,-0.65) (2016.88,-0.30) (2016.90,-3.08)
(2016.92,-0.35) (2016.96,-0.70) (2017.00,-0.30) (2017.04,-0.60) (2017.08,-0.72) (2017.10,-0.25) (2017.14,-0.40) (2017.18,-0.12)
(2017.22,-0.25) (2017.26,-0.10) (2017.30,-0.18) (2017.34,-0.09) (2017.38,-0.20) (2017.42,-0.10) (2017.46,-0.30) (2017.50,-0.11)
(2017.54,-0.25) (2017.58,-0.10) (2017.62,-0.20) (2017.66,-0.09) (2017.70,-0.25) (2017.74,-0.11) (2017.78,-0.35) (2017.82,-0.10)
(2017.86,-0.22) (2017.90,-0.09) (2017.94,-0.30) (2017.98,-0.10) (2018.02,-0.25) (2018.06,-0.12) (2018.10,-0.40) (2018.14,-0.13)
(2018.18,-0.67) (2018.20,-0.15) (2018.24,-0.35) (2018.28,-0.11) (2018.32,-0.25) (2018.36,-0.10) (2018.40,-0.35) (2018.44,-0.12)
(2018.48,-0.25) (2018.52,-0.10) (2018.56,-0.30) (2018.60,-0.12) (2018.64,-0.40) (2018.68,-0.15) (2018.72,-0.55) (2018.75,-0.20)
(2018.79,-0.90) (2018.82,-1.58) (2018.84,-0.30) (2018.88,-0.50) (2018.92,-0.15) (2018.96,-0.30) (2019.00,-0.10) (2019.04,-0.25)
(2019.08,-0.11) (2019.12,-0.35) (2019.16,-0.12) (2019.20,-0.67) (2019.22,-0.12) (2019.26,-0.30) (2019.30,-0.10) (2019.34,-0.20)
(2019.38,-0.11) (2019.42,-0.35) (2019.46,-0.10) (2019.50,-0.25) (2019.54,-0.11) (2019.58,-0.20) (2019.62,-0.10) (2019.66,-0.30)
(2019.70,-0.12) (2019.74,-0.25) (2019.78,-0.50) (2019.81,-0.15) (2019.83,-2.36) (2019.85,-0.15) (2019.89,-0.35) (2019.93,-0.11)
(2019.97,-0.25) (2020.01,-0.10) (2020.05,-0.40) (2020.09,-0.12) (2020.13,-0.30) (2020.17,-0.11) (2020.21,-0.45) (2020.25,-0.13)
(2020.29,-0.35) (2020.33,-0.12) (2020.35,-0.67) (2020.37,-0.13) (2020.41,-0.45) (2020.45,-0.15) (2020.49,-0.60) (2020.52,-0.20)
(2020.56,-0.45) (2020.60,-0.65) (2020.63,-0.15) (2020.67,-0.40) (2020.71,-0.12) (2020.75,-0.35) (2020.79,-0.11) (2020.83,-0.50)
(2020.87,-0.13) (2020.91,-0.30) (2020.95,-0.11) (2020.99,-0.40) (2021.03,-0.13) (2021.07,-0.55) (2021.10,-0.15) (2021.12,-1.17)
(2021.14,-0.20) (2021.18,-0.50) (2021.22,-0.15) (2021.26,-0.60) (2021.30,-0.20) (2021.35,-1.12) (2021.37,-0.20) (2021.41,-0.55)
(2021.45,-0.15) (2021.49,-0.45) (2021.53,-0.13) (2021.57,-0.40) (2021.61,-0.12) (2021.65,-0.50) (2021.69,-0.15) (2021.73,-0.45)
(2021.77,-0.20) (2021.82,-1.51) (2021.84,-0.25) (2021.88,-0.60) (2021.92,-0.30) (2021.96,-0.75) (2022.00,-0.35) (2022.04,-0.85)
(2022.08,-0.40) (2022.12,-0.90) (2022.16,-0.45) (2022.20,-1.00) (2022.24,-0.50) (2022.27,-1.90) (2022.29,-0.60) (2022.32,-1.10)
(2022.35,-2.07) (2022.37,-0.50) (2022.41,-0.90) (2022.45,-0.35) (2022.49,-0.70) (2022.53,-0.25) (2022.57,-0.60) (2022.61,-0.20)
(2022.65,-0.50) (2022.69,-0.15) (2022.73,-0.55) (2022.76,-0.87) (2022.78,-0.18) (2022.82,-0.45) (2022.86,-0.15) (2022.90,-0.40)
(2022.94,-0.13) (2022.98,-0.50) (2023.02,-0.15) (2023.06,-0.40) (2023.11,-0.92) (2023.13,-0.15) (2023.17,-0.45) (2023.21,-0.12)
(2023.25,-0.35) (2023.29,-0.11) (2023.33,-0.40) (2023.37,-0.13) (2023.41,-0.50) (2023.45,-0.15) (2023.49,-0.55) (2023.53,-0.20)
(2023.57,-0.70) (2023.60,-1.41) (2023.62,-0.25) (2023.66,-0.60) (2023.70,-0.20) (2023.74,-0.45) (2023.78,-0.15) (2023.82,-0.40)
(2023.86,-0.12) (2023.90,-0.35) (2023.94,-0.11) (2023.98,-0.30) (2024.02,-0.15) (2024.05,-0.82) (2024.06,-0.40)
};
\end{axis}

% VIC
\begin{axis}[panel, at={(208.35pt,44.85pt)}, width=289.65pt, height=115pt,
  xmin=2006, xmax=2024.1, ymin=-3.5, ymax=0,
  ytick={-3.5,-3,-2.5,-2,-1.5,-1,-0.5,0}]
\addplot[serd] coordinates {
(2006.00,-0.20) (2006.03,-0.37) (2006.05,-0.15) (2006.06,-1.33) (2006.08,-0.12) (2006.12,-0.25) (2006.15,-1.63) (2006.17,-0.12)
(2006.21,-0.20) (2006.25,-0.10) (2006.29,-0.35) (2006.32,-0.11) (2006.36,-0.20) (2006.40,-0.80) (2006.42,-0.12) (2006.46,-0.30)
(2006.50,-0.11) (2006.55,-0.77) (2006.57,-0.12) (2006.61,-0.20) (2006.65,-0.10) (2006.69,-0.18) (2006.73,-0.09) (2006.77,-0.20)
(2006.81,-0.11) (2006.85,-0.35) (2006.89,-0.12) (2006.93,-0.25) (2006.97,-0.40) (2007.00,-0.13) (2007.03,-0.50) (2007.05,-1.68)
(2007.07,-0.20) (2007.10,-0.55) (2007.13,-0.15) (2007.17,-0.40) (2007.21,-0.87) (2007.23,-0.12) (2007.27,-0.25) (2007.31,-0.10)
(2007.35,-0.20) (2007.39,-0.11) (2007.43,-0.52) (2007.46,-0.12) (2007.50,-0.25) (2007.54,-0.09) (2007.58,-0.18) (2007.62,-0.10)
(2007.66,-0.20) (2007.70,-0.09) (2007.74,-0.15) (2007.78,-0.10) (2007.82,-0.35) (2007.86,-0.12) (2007.90,-0.50) (2007.93,-0.20)
(2007.98,-0.75) (2008.00,-0.15) (2008.04,-0.55) (2008.08,-0.20) (2008.12,-0.60) (2008.15,-0.15) (2008.20,-0.40) (2008.24,-1.08)
(2008.26,-0.13) (2008.30,-0.25) (2008.34,-0.10) (2008.38,-0.20) (2008.42,-0.09) (2008.46,-0.25) (2008.50,-0.10) (2008.54,-0.20)
(2008.58,-1.02) (2008.60,-0.11) (2008.64,-0.20) (2008.68,-0.09) (2008.72,-0.25) (2008.76,-0.10) (2008.80,-0.18) (2008.84,-0.09)
(2008.88,-0.22) (2008.92,-0.10) (2008.96,-0.30) (2009.00,-0.11) (2009.04,-0.25) (2009.08,-0.12) (2009.12,-0.45) (2009.14,-1.53)
(2009.16,-0.15) (2009.20,-0.30) (2009.24,-0.10) (2009.28,-0.20) (2009.32,-0.09) (2009.36,-0.15) (2009.40,-0.08) (2009.44,-0.16)
(2009.48,-0.09) (2009.52,-0.14) (2009.56,-0.08) (2009.60,-0.18) (2009.64,-0.09) (2009.68,-0.20) (2009.72,-0.10) (2009.76,-0.25)
(2009.80,-0.09) (2009.84,-0.18) (2009.88,-0.10) (2009.91,-0.30) (2009.94,-0.80) (2009.96,-0.12) (2010.00,-0.45) (2010.03,-0.15)
(2010.07,-1.89) (2010.09,-0.20) (2010.13,-0.60) (2010.16,-0.20) (2010.18,-1.10) (2010.20,-0.12) (2010.25,-0.30) (2010.29,-0.10)
(2010.33,-0.25) (2010.36,-0.12) (2010.38,-1.91) (2010.40,-0.10) (2010.44,-0.25) (2010.48,-0.09) (2010.52,-0.30) (2010.54,-0.52)
(2010.56,-0.10) (2010.60,-0.20) (2010.64,-0.08) (2010.68,-0.15) (2010.72,-0.09) (2010.76,-0.18) (2010.80,-0.08) (2010.84,-0.20)
(2010.88,-0.64) (2010.90,-0.09) (2010.94,-0.18) (2010.98,-0.08) (2011.02,-0.15) (2011.06,-0.09) (2011.10,-0.20) (2011.14,-0.08)
(2011.17,-1.05) (2011.19,-0.09) (2011.23,-0.18) (2011.27,-0.08) (2011.31,-0.15) (2011.35,-0.09) (2011.39,-0.17) (2011.43,-0.08)
(2011.47,-0.14) (2011.51,-0.09) (2011.55,-0.25) (2011.59,-0.08) (2011.63,-0.15) (2011.67,-0.09) (2011.71,-0.18) (2011.75,-0.08)
(2011.79,-0.14) (2011.83,-0.09) (2011.87,-0.20) (2011.90,-0.57) (2011.92,-0.09) (2011.96,-0.16) (2012.00,-0.08) (2012.04,-0.15)
(2012.08,-0.09) (2012.12,-0.18) (2012.16,-0.08) (2012.20,-0.14) (2012.24,-0.09) (2012.28,-0.17) (2012.32,-0.08) (2012.36,-0.15)
(2012.40,-0.10) (2012.44,-0.18) (2012.48,-0.09) (2012.52,-0.20) (2012.56,-0.12) (2012.59,-0.77) (2012.61,-0.10) (2012.65,-0.25)
(2012.69,-0.09) (2012.73,-0.20) (2012.77,-0.10) (2012.80,-0.30) (2012.83,-0.62) (2012.85,-0.10) (2012.89,-0.20) (2012.93,-0.09)
(2012.97,-0.25) (2013.01,-0.12) (2013.04,-1.10) (2013.06,-0.20) (2013.09,-0.50) (2013.11,-0.95) (2013.13,-0.15) (2013.17,-0.30)
(2013.21,-0.10) (2013.25,-0.20) (2013.29,-0.09) (2013.33,-0.15) (2013.37,-0.08) (2013.41,-0.18) (2013.45,-0.10) (2013.49,-0.25)
(2013.53,-0.09) (2013.57,-0.18) (2013.61,-0.08) (2013.65,-0.15) (2013.69,-0.09) (2013.73,-0.20) (2013.77,-0.08) (2013.81,-0.15)
(2013.85,-0.09) (2013.89,-0.18) (2013.93,-0.08) (2013.97,-0.25) (2014.01,-0.10) (2014.05,-0.30) (2014.08,-0.55) (2014.10,-0.80)
(2014.12,-0.15) (2014.16,-0.30) (2014.20,-0.10) (2014.24,-0.18) (2014.28,-0.09) (2014.32,-0.16) (2014.36,-0.08) (2014.40,-0.14)
(2014.44,-0.09) (2014.48,-0.18) (2014.52,-0.08) (2014.56,-0.15) (2014.60,-0.09) (2014.64,-0.14) (2014.68,-0.08) (2014.73,-0.12)
(2014.78,-0.09) (2014.82,-0.15) (2014.86,-0.10) (2014.90,-0.20) (2014.94,-0.09) (2014.98,-0.18) (2015.02,-0.10) (2015.06,-0.15)
(2015.10,-0.09) (2015.14,-0.18) (2015.18,-0.08) (2015.22,-0.14) (2015.26,-0.09) (2015.30,-0.16) (2015.34,-0.08) (2015.38,-0.15)
(2015.42,-0.10) (2015.46,-0.20) (2015.50,-0.09) (2015.54,-0.15) (2015.58,-0.10) (2015.62,-0.18) (2015.66,-0.09) (2015.70,-0.20)
(2015.74,-0.10) (2015.78,-0.22) (2015.82,-0.12) (2015.86,-0.30) (2015.89,-0.42) (2015.92,-0.15) (2015.96,-0.50) (2016.00,-0.20)
(2016.04,-0.45) (2016.08,-0.15) (2016.12,-0.40) (2016.15,-0.20) (2016.18,-1.25) (2016.20,-0.18) (2016.24,-0.50) (2016.28,-0.15)
(2016.32,-0.60) (2016.36,-0.20) (2016.40,-0.45) (2016.42,-0.15) (2016.45,-0.85) (2016.47,-0.15) (2016.51,-0.45) (2016.55,-0.12)
(2016.59,-0.55) (2016.63,-0.15) (2016.67,-0.40) (2016.71,-0.12) (2016.75,-0.35) (2016.79,-0.13) (2016.83,-0.45) (2016.87,-0.15)
(2016.91,-0.35) (2016.95,-0.12) (2016.99,-0.72) (2017.01,-0.15) (2017.05,-0.40) (2017.09,-0.12) (2017.13,-0.35) (2017.17,-0.10)
(2017.20,-0.30) (2017.23,-0.12) (2017.27,-0.77) (2017.29,-0.10) (2017.33,-0.25) (2017.37,-0.09) (2017.41,-0.20) (2017.45,-0.08)
(2017.49,-0.15) (2017.53,-0.09) (2017.57,-0.18) (2017.61,-0.08) (2017.65,-0.15) (2017.69,-0.09) (2017.73,-0.17) (2017.77,-0.08)
(2017.81,-0.15) (2017.85,-0.09) (2017.89,-0.20) (2017.93,-0.08) (2017.97,-0.18) (2018.01,-0.10) (2018.05,-0.25) (2018.09,-0.11)
(2018.13,-0.35) (2018.17,-0.12) (2018.20,-0.75) (2018.22,-0.85) (2018.24,-0.12) (2018.28,-0.30) (2018.32,-0.10) (2018.36,-0.25)
(2018.40,-0.09) (2018.44,-0.35) (2018.48,-0.10) (2018.52,-0.30) (2018.56,-0.12) (2018.60,-0.40) (2018.64,-0.12) (2018.68,-0.25)
(2018.72,-0.11) (2018.76,-0.35) (2018.80,-0.12) (2018.84,-0.45) (2018.86,-1.68) (2018.88,-0.15) (2018.92,-0.30) (2018.96,-0.12)
(2019.00,-0.40) (2019.04,-0.13) (2019.08,-0.45) (2019.12,-0.15) (2019.16,-0.60) (2019.21,-1.30) (2019.23,-0.20) (2019.27,-0.50)
(2019.31,-1.15) (2019.33,-0.12) (2019.37,-0.30) (2019.41,-0.10) (2019.45,-0.25) (2019.49,-0.09) (2019.53,-0.20) (2019.57,-0.10)
(2019.61,-0.25) (2019.65,-0.09) (2019.69,-0.30) (2019.73,-0.11) (2019.77,-0.35) (2019.81,-0.12) (2019.85,-0.45) (2019.89,-0.15)
(2019.93,-0.55) (2019.96,-0.60) (2019.98,-0.20) (2020.02,-0.55) (2020.06,-0.20) (2020.10,-0.45) (2020.14,-0.15) (2020.18,-0.60)
(2020.22,-0.20) (2020.26,-0.50) (2020.30,-0.15) (2020.34,-1.58) (2020.36,-0.15) (2020.40,-0.45) (2020.44,-0.12) (2020.48,-0.35)
(2020.52,-0.10) (2020.56,-0.30) (2020.60,-0.12) (2020.64,-0.25) (2020.68,-0.10) (2020.72,-0.30) (2020.76,-0.12) (2020.80,-0.35)
(2020.84,-0.10) (2020.88,-0.30) (2020.92,-0.12) (2020.96,-0.45) (2021.00,-0.20) (2021.02,-0.95) (2021.05,-0.30) (2021.09,-0.70)
(2021.13,-0.25) (2021.17,-0.60) (2021.21,-0.20) (2021.25,-0.55) (2021.29,-0.20) (2021.33,-0.70) (2021.36,-2.42) (2021.38,-0.30)
(2021.42,-0.80) (2021.46,-0.35) (2021.50,-0.70) (2021.54,-0.97) (2021.56,-0.30) (2021.60,-0.60) (2021.64,-0.25) (2021.68,-0.70)
(2021.72,-0.30) (2021.76,-0.80) (2021.80,-0.35) (2021.84,-0.90) (2021.88,-0.40) (2021.92,-0.85) (2021.96,-1.13) (2021.98,-0.40)
(2022.02,-0.90) (2022.06,-0.45) (2022.10,-1.00) (2022.14,-0.50) (2022.18,-1.74) (2022.20,-0.60) (2022.24,-1.10) (2022.27,-0.55)
(2022.30,-1.08) (2022.33,-0.60) (2022.36,-1.20) (2022.41,-1.23) (2022.44,-0.55) (2022.48,-1.00) (2022.51,-2.37) (2022.54,-0.60)
(2022.58,-1.10) (2022.62,-2.60) (2022.64,-0.70) (2022.67,-1.20) (2022.70,-1.48) (2022.72,-0.50) (2022.76,-1.00) (2022.80,-1.23)
(2022.82,-0.40) (2022.86,-0.80) (2022.90,-0.30) (2022.94,-0.75) (2022.98,-0.97) (2023.00,-0.30) (2023.04,-0.60) (2023.08,-0.20)
(2023.12,-0.50) (2023.16,-0.15) (2023.20,-0.40) (2023.24,-0.20) (2023.28,-0.70) (2023.31,-2.01) (2023.33,-0.50) (2023.36,-1.20)
(2023.39,-3.10) (2023.41,-0.40) (2023.43,-1.71) (2023.45,-0.10) (2023.49,-0.60) (2023.53,-0.30) (2023.57,-0.80) (2023.61,-0.40)
(2023.64,-1.00) (2023.67,-2.78) (2023.69,-0.50) (2023.73,-0.90) (2023.77,-0.30) (2023.81,-0.70) (2023.85,-0.25) (2023.90,-0.60)
(2023.95,-1.35) (2023.97,-0.30) (2024.01,-0.70) (2024.05,-0.25) (2024.08,-0.80) (2024.10,-0.92)
};
\end{axis}
\end{tikzpicture}
\end{document}
